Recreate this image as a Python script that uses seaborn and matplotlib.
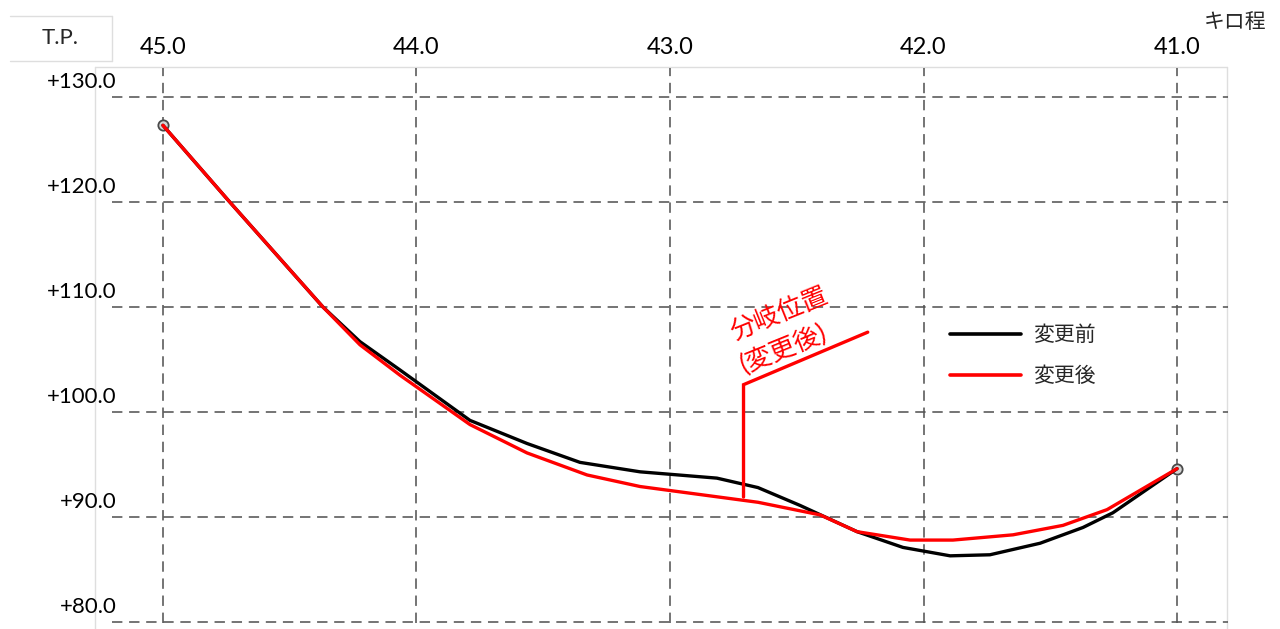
import matplotlib
matplotlib.use("Agg")
import matplotlib.pyplot as plt
import seaborn as sns
import pandas as pd
from matplotlib.lines import Line2D
from matplotlib.transforms import ScaledTranslation

# ---------------- data ----------------
km_before = [45.0, 44.744, 44.369, 44.223, 44.065, 43.789, 43.564, 43.355, 43.118, 42.815,
             42.653, 42.487, 42.262, 42.081, 41.895, 41.738, 41.540, 41.371, 41.253, 41.0]
tp_before = [127.3, 120.2, 110.0, 106.7, 104.0, 99.2, 97.0, 95.2, 94.3, 93.7,
             92.8, 91.1, 88.6, 87.1, 86.3, 86.4, 87.5, 89.0, 90.4, 94.6]
km_after = [45.0, 44.744, 44.369, 44.223, 44.065, 43.789, 43.564, 43.327, 43.118, 42.653,
            42.408, 42.262, 42.053, 41.884, 41.647, 41.450, 41.276, 41.0]
tp_after = [127.3, 120.2, 110.0, 106.4, 103.5, 98.8, 96.1, 94.0, 92.9, 91.4,
            90.2, 88.6, 87.8, 87.8, 88.3, 89.2, 90.7, 94.6]
series_names = ["変更前", "変更後"]
x_ticks = [45.0, 44.0, 43.0, 42.0, 41.0]
x_tick_labels = ["45.0", "44.0", "43.0", "42.0", "41.0"]
y_ticks = [80.0, 90.0, 100.0, 110.0, 120.0, 130.0]
y_tick_labels = ["+80.0", "+90.0", "+100.0", "+110.0", "+120.0", "+130.0"]
leader_km = [42.71, 42.71, 42.22]
leader_tp = [91.9, 102.6, 107.6]
note_lines = ["分岐位置", "(変更後)"]
note_km = [42.57, 42.55]
note_tp = [109.3, 106.0]

# ---------------- figure ----------------
sns.set_theme(style="white")
plt.rcParams["font.family"] = ["Lato", "Noto Sans CJK JP", "DejaVu Sans"]

W, H = 1280, 629
fig = plt.figure(figsize=(W / 100, H / 100), dpi=100)

def fx(px):
    return px / W

def fy(py):
    return 1 - py / H

ax = fig.add_axes([fx(112), fy(622.5), fx(1228) - fx(112), fy(68) - fy(622.5)])
ax.patch.set_alpha(0)

df = pd.concat([
    pd.DataFrame({"km": km_before, "tp": tp_before, "series": series_names[0]}),
    pd.DataFrame({"km": km_after, "tp": tp_after, "series": series_names[1]}),
])

# endpoint circles
ends = pd.DataFrame({"km": [km_before[0], km_before[-1]], "tp": [tp_before[0], tp_before[-1]]})
sns.scatterplot(data=ends, x="km", y="tp", ax=ax, s=55, color="#d4d4d4",
                edgecolor="#4a4a4a", linewidth=1.3, zorder=2, legend=False)

sns.lineplot(data=df, x="km", y="tp", hue="series", hue_order=series_names,
             palette={"変更前": "black", "変更後": "#ff0000"}, linewidth=2.4,
             ax=ax, zorder=3, estimator=None, sort=True)

# annotation leader line
ax.plot(leader_km, leader_tp, color="#ff0000", linewidth=2.4, zorder=3, solid_joinstyle="miter")
for txt, k, t in zip(note_lines, note_km, note_tp):
    ax.text(k, t, txt, color="#ff0000", fontsize=18.5, rotation=22,
            ha="center", va="center", rotation_mode="anchor")

# axes limits / grid
ax.set_xlim(45.201, 40.799)
ax.set_ylim(79.95, 132.76)
for s in ax.spines.values():
    s.set_visible(False)
ax.set_axisbelow(True)
ax.grid(True, color="#555555", linestyle=(0, (6.5, 4.2)), linewidth=1.15)

ax.set_xticks(x_ticks, labels=x_tick_labels)
ax.set_yticks(y_ticks, labels=y_tick_labels)
ax.xaxis.tick_top()
ax.tick_params(axis="x", length=0, labeltop=True, labelbottom=False, pad=7,
               labelsize=17, labelcolor="black")
ax.tick_params(axis="y", length=0, pad=0, labelsize=16, labelcolor="black")
ax.set_xlabel("")
ax.set_ylabel("")
off = ScaledTranslation(5 / 100, 17 / 100, fig.dpi_scale_trans)
for lab in ax.get_yticklabels():
    lab.set_transform(lab.get_transform() + off)

# legend
handles, labels = ax.get_legend_handles_labels()
leg = ax.legend(handles, labels, loc="upper left", bbox_to_anchor=(fx(950), fy(325)),
                bbox_transform=fig.transFigure, frameon=False, fontsize=15,
                handlelength=3.4, handletextpad=0.6, labelspacing=1.0,
                borderpad=0, borderaxespad=0)
for h in leg.get_lines():
    h.set_linewidth(2.6)

# corner labels
fig.text(fx(60), fy(38), "T.P.", fontsize=16, ha="center", va="center")
fig.text(fx(1235), fy(22), "キロ程", fontsize=15, ha="center", va="center")

# light frames (behind everything)
fc = "#dedede"
for (x0, y0, x1, y1) in [(10, 16, 112, 16), (10, 61, 112, 61), (112, 16, 112, 61),
                         (95, 67, 1227, 67), (95, 67, 95, 640), (1227, 67, 1227, 640)]:
    fig.add_artist(Line2D([fx(x0), fx(x1)], [fy(y0), fy(y1)], color=fc, linewidth=1.0,
                          transform=fig.transFigure, zorder=-5))

fig.savefig("out.png", dpi=100)
